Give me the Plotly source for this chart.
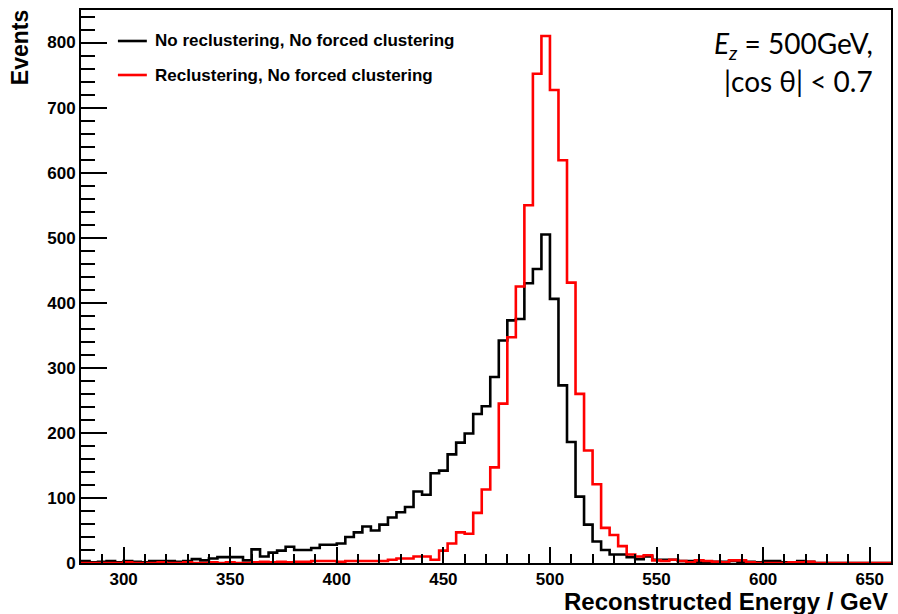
import plotly.graph_objects as go

# ---- data -------------------------------------------------------------
bin_low = 280
bin_width = 4
# "No reclustering, No forced clustering" (black)
black_counts = [
    3, 1, 2, 3, 1, 3, 2, 1, 3, 3, 3, 2, 3, 6, 4, 7, 9, 9, 9, 4,      # 280-356
    21, 10, 16, 19, 25, 20, 20, 23, 28, 28,                          # 360-396
    30, 40, 47, 56, 50, 59, 70, 78, 86, 110,                         # 400-436
    105, 138, 142, 167, 185, 199, 229, 241, 286, 342,                # 440-476
    373, 375, 430, 452, 505, 406, 273, 186, 102, 59,                 # 480-516
    33, 20, 13, 13, 9, 6, 10, 5, 5, 5,                               # 520-556
    3, 3, 2, 2, 2, 2, 3, 1, 2, 1,                                    # 560-596
    3, 3, 1, 1, 3, 2, 0, 0, 0, 0,                                    # 600-636
    0, 0, 0, 0, 0,                                                   # 640-656
]
# "Reclustering, No forced clustering" (red)
red_counts = [
    0, 0, 0, 0, 0, 1, 0, 0, 0, 1, 0, 0, 1, 0, 0, 1, 0, 1, 0, 0,      # 280-356
    1, 2, 1, 2, 1, 2, 2, 3, 3, 3,                                    # 360-396
    2, 3, 3, 3, 3, 3, 5, 7, 7, 10,                                   # 400-436
    10, 5, 19, 30, 47, 45, 77, 113, 147, 245,                        # 440-476
    347, 425, 550, 752, 810, 727, 619, 431, 260, 173,                # 480-516
    121, 54, 43, 26, 13, 10, 12, 4, 3, 5,                            # 520-556
    3, 1, 4, 3, 2, 1, 4, 4, 1, 0,                                    # 560-596
    0, 0, 0, 1, 1, 2, 0, 0, 0, 0,                                    # 600-636
    0, 0, 0, 0, 0,                                                   # 640-656
]
series_names = ["No reclustering, No forced clustering",
                "Reclustering, No forced clustering"]
series_colors = ["black", "red"]
x_tick_vals = [300, 350, 400, 450, 500, 550, 600, 650]
y_tick_vals = [0, 100, 200, 300, 400, 500, 600, 700, 800]
x_range = [280, 660]
y_range = [0, 850]

# ---- figure -----------------------------------------------------------
W, H = 898, 614
ML, MR, MT, MB = 81, 5, 10, 51
PW, PH = W - ML - MR, H - MT - MB


def px_to_paper(px, py):
    return (px - ML) / PW, 1 - (py - MT) / PH


fig = go.Figure()
for counts, name, color in zip([black_counts, red_counts], series_names, series_colors):
    edges = [bin_low + i * bin_width for i in range(len(counts) + 1)]
    fig.add_trace(go.Scatter(
        x=edges, y=counts + [counts[-1]], mode="lines", line_shape="hv",
        line=dict(color=color, width=2.6), name=name, showlegend=False,
        hoverinfo="skip"))

tick_font = dict(family="Liberation Sans", size=17, color="black", weight="bold")

fig.update_xaxes(
    range=x_range, tickvals=x_tick_vals, ticks="inside", ticklen=16, tickwidth=1.5,
    tickcolor="black", tickfont=tick_font, showgrid=False, zeroline=False,
    showline=True, linecolor="black", linewidth=2, mirror=True,
    minor=dict(dtick=10, tick0=0, ticks="inside", ticklen=9, tickwidth=1.5,
               tickcolor="black", showgrid=False))
fig.update_yaxes(
    range=y_range, tickvals=y_tick_vals, ticks="inside", ticklen=26, tickwidth=1.5,
    tickcolor="black", tickfont=tick_font, showgrid=False, zeroline=False,
    showline=True, linecolor="black", linewidth=2, mirror=True,
    minor=dict(dtick=20, tick0=0, ticks="inside", ticklen=14, tickwidth=1.5,
               tickcolor="black", showgrid=False))

annotations = []
shapes = []
# axis titles
x0, y0 = px_to_paper(892, 601)
annotations.append(dict(text="Reconstructed Energy / GeV", x=x0, y=y0, xref="paper",
                        yref="paper", xanchor="right", yanchor="middle", showarrow=False,
                        font=dict(family="Liberation Sans", size=24, color="black",
                                  weight="bold")))
x0, y0 = px_to_paper(20, 48)
annotations.append(dict(text="Events", x=x0, y=y0, xref="paper", yref="paper",
                        xanchor="center", yanchor="middle", textangle=-90, showarrow=False,
                        font=dict(family="Liberation Sans", size=23, color="black",
                                  weight="bold")))
# legend
for i, (name, color) in enumerate(zip(series_names, series_colors)):
    ly = 41 + i * 34
    xa, ya = px_to_paper(118, ly)
    xb, _ = px_to_paper(147, ly)
    shapes.append(dict(type="line", xref="paper", yref="paper", x0=xa, x1=xb, y0=ya,
                       y1=ya, line=dict(color=color, width=2.6)))
    xt, _ = px_to_paper(153, ly)
    annotations.append(dict(text=name, x=xt, y=ya, xref="paper", yref="paper",
                            xanchor="left", yanchor="middle", showarrow=False,
                            font=dict(family="Liberation Sans", size=17, color="black",
                                      weight="bold")))
# info text
x0, y0 = px_to_paper(877, 45)
annotations.append(dict(text="<i>E<sub>z</sub></i> = 500GeV,", x=x0, y=y0, xref="paper",
                        yref="paper", xanchor="right", yanchor="middle", showarrow=False,
                        font=dict(family="Lato", size=28, color="black")))
x0, y0 = px_to_paper(877, 81)
annotations.append(dict(text="|cos θ| < 0.7", x=x0, y=y0, xref="paper",
                        yref="paper", xanchor="right", yanchor="middle", showarrow=False,
                        font=dict(family="Lato", size=28, color="black")))

fig.update_layout(
    width=W, height=H, margin=dict(l=ML, r=MR, t=MT, b=MB),
    paper_bgcolor="white", plot_bgcolor="white", showlegend=False,
    annotations=annotations, shapes=shapes)

fig.write_html("out.html")
